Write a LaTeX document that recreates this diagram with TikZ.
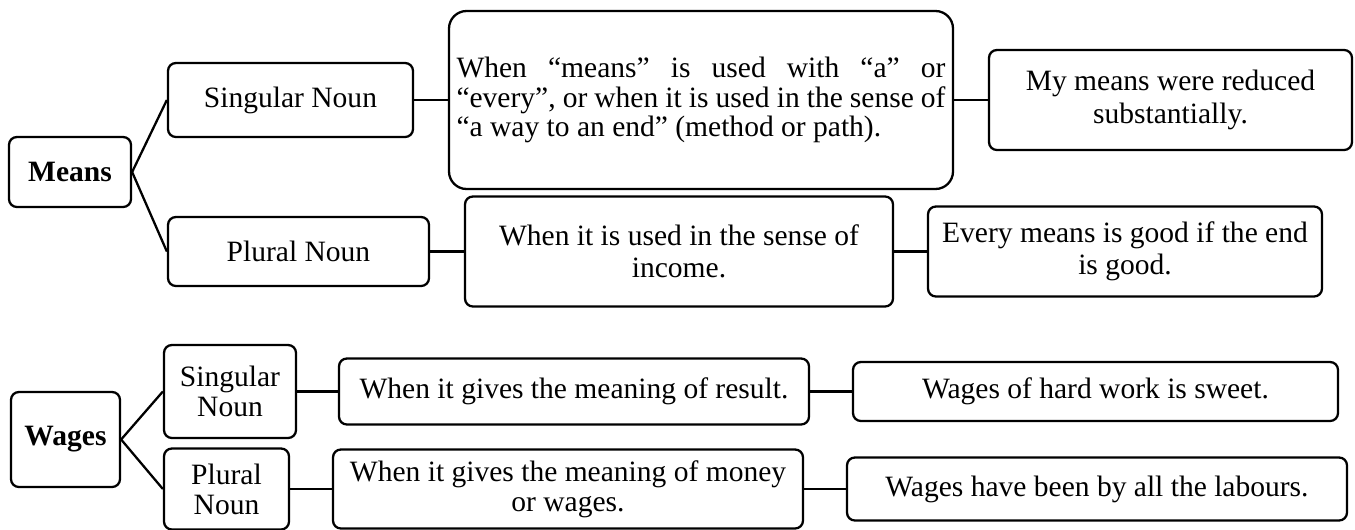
\documentclass[tikz,border=0pt]{standalone}
\usepackage{fontspec}
\setmainfont{Liberation Serif}

\tikzset{
  box/.style={draw, line width=1.3pt, rounded corners=4.5pt, inner sep=0pt,
    align=center, font=\fontsize{16.8}{17}\selectfont},
  every edge/.style={draw, line width=1.3pt},
}

\begin{document}
\begin{tikzpicture}
\useasboundingbox (0,0) rectangle (27.1,10.58);

% Means
\node[box, minimum width=2.44cm, minimum height=1.4cm] (means) at (1.4,7.14) {\textbf{Means}};

\node[box, minimum width=4.9cm, minimum height=1.48cm] (sgM) at (5.81,8.58) {Singular Noun};
\node[box, rounded corners=10pt, minimum width=10.08cm, minimum height=3.56cm,
  text width=9.78cm, align=justify] (useM) at (14.02,8.58)
  {When “means” is used with “a” or\linebreak “every”, or when it is used in the sense of\linebreak “a way to an end” (method or path).};
\node[box, minimum width=7.26cm, minimum height=2.0cm] (exsgM) at (23.41,8.58) {My means were reduced\\[1.5pt]substantially.};

\node[box, minimum width=5.22cm, minimum height=1.38cm] (plM) at (5.97,5.55) {Plural Noun};
\node[box, minimum width=8.56cm, minimum height=2.2cm] (useplM) at (13.58,5.55) {When it is used in the sense of\\[1pt]income.};
\node[box, minimum width=7.88cm, minimum height=1.8cm] (explM) at (22.5,5.55) {Every means is good if the end\\[1pt]is good.};

% Wages
\node[box, minimum width=2.18cm, minimum height=1.9cm] (wages) at (1.31,1.79) {\textbf{Wages}};

\node[box, minimum width=2.64cm, minimum height=1.86cm] (sgW) at (4.6,2.75) {Singular\\Noun};
\node[box, minimum width=9.4cm, minimum height=1.32cm] (usesgW) at (11.48,2.75) {When it gives the meaning of result.};
\node[box, minimum width=9.7cm, minimum height=1.18cm] (exsgW) at (21.91,2.75) {Wages of hard work is sweet.};

\node[box, minimum width=2.5cm, minimum height=1.62cm] (plW) at (4.53,0.8) {Plural\\Noun};
\node[box, minimum width=9.4cm, minimum height=1.58cm] (useplW) at (11.36,0.8) {When it gives the meaning of money\\or wages.};
\node[box, minimum width=10.0cm, minimum height=1.26cm] (explW) at (21.94,0.8) {Wages have been by all the labours.};

\path[]
(means.east) edge (sgM.west)
(means.east) edge (plM.west)
(sgM) edge (useM)
(useM) edge (exsgM)
(plM) edge (useplM)
(useplM) edge (explM)
(wages.east) edge (sgW.west)
(wages.east) edge (plW.west)
(sgW) edge (usesgW)
(usesgW) edge (exsgW)
(plW) edge (useplW)
(useplW) edge (explW)
;
\end{tikzpicture}
\end{document}
